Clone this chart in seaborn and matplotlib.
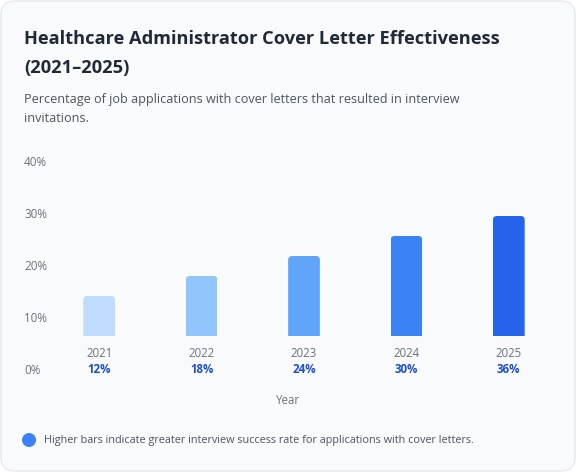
import matplotlib
matplotlib.use("Agg")
import matplotlib.pyplot as plt
from matplotlib.patches import FancyBboxPatch, Ellipse
import seaborn as sns
import pandas as pd

years = ["2021", "2022", "2023", "2024", "2025"]
rates = [12, 18, 24, 30, 36]
bar_colors = ["#bfdbfe", "#93c5fd", "#60a5fa", "#3b82f6", "#2563eb"]
axis_ticks = [0, 10, 20, 30, 40]
axis_labels = ["0%", "10%", "20%", "30%", "40%"]

title_lines = ["Healthcare Administrator Cover Letter Effectiveness", "(2021\u20132025)"]
subtitle_lines = ["Percentage of job applications with cover letters that resulted in interview",
                  "invitations."]
footer = "Higher bars indicate greater interview success rate for applications with cover letters."

sns.set_theme(style="white")
plt.rcParams["font.family"] = ["Open Sans", "DejaVu Sans"]

W, H = 576, 472
fig = plt.figure(figsize=(W / 100, H / 100), dpi=100)
fig.patch.set_facecolor("white")

card = FancyBboxPatch((1 / W, 1 / H), 1 - 2 / W, 1 - 2 / H,
                      boxstyle="round,pad=0,rounding_size=0.025",
                      transform=fig.transFigure, facecolor="#f8fafc",
                      edgecolor="#e5e7eb", linewidth=1, mutation_aspect=W / H,
                      zorder=-10)
fig.patches.append(card)

def fy(px):
    return 1 - px / H

def fx(px):
    return px / W

# bar axes: baseline at y=336px, 40px per 12%
px_per_unit = 40 / 12
bar_top_px = 160
ax = fig.add_axes([fx(48), fy(336), fx(560) - fx(48), (336 - bar_top_px) / H])
ax.patch.set_alpha(0)
df = pd.DataFrame({"year": years, "rate": rates})
sns.barplot(data=df, x="year", y="rate", hue="year", palette=bar_colors,
            width=0.31, legend=False, ax=ax, saturation=1, linewidth=0)
ax.set_ylim(0, (336 - bar_top_px) / px_per_unit)
ax.set_xlim(-0.5, len(years) - 0.5)
for s in ax.spines.values():
    s.set_visible(False)
ax.set_xticks([])
ax.set_yticks([])
ax.set_xlabel("")
ax.set_ylabel("")

# rounded top corners via clip path
xunit_px = (560 - 48) / len(years)
r_px = 4
for p in ax.patches:
    x, w, h = p.get_x(), p.get_width(), p.get_height()
    clip = FancyBboxPatch((x, -5), w, h + 5,
                          boxstyle=f"round,pad=0,rounding_size={r_px / xunit_px}",
                          mutation_aspect=xunit_px / px_per_unit,
                          transform=ax.transData)
    p.set_clip_path(clip)

for i, (yr, v) in enumerate(zip(years, rates)):
    ax.annotate(yr, xy=(i, 0), xytext=(0, -17.5), textcoords="offset pixels",
                ha="center", va="center", fontsize=8.3, color="#6b7280",
                annotation_clip=False)
    ax.annotate(f"{v}%", xy=(i, 0), xytext=(0, -33.5), textcoords="offset pixels",
                ha="center", va="center", fontsize=8.3, color="#1d4ed8",
                fontweight="bold", annotation_clip=False)

# scale axes for tick labels: 0% at y=368px, 40% at 160px
ax2 = fig.add_axes([0, fy(369.5), fx(24), (368 - 160) / H])
ax2.patch.set_alpha(0)
ax2.set_ylim(0, 40)
ax2.set_xticks([])
ax2.yaxis.tick_right()
ax2.set_yticks(axis_ticks)
ax2.set_yticklabels(axis_labels)
ax2.tick_params(axis="y", length=0, pad=0, labelsize=8.4, labelcolor="#6b7280")
for s in ax2.spines.values():
    s.set_visible(False)

fig.text(fx(288), fy(401), "Year", ha="center", va="center", fontsize=8.3, color="#6b7280")

fig.text(fx(24), fy(39), title_lines[0], ha="left", va="center", fontsize=13.15,
         fontweight="bold", color="#1f2937")
fig.text(fx(24), fy(68), title_lines[1], ha="left", va="center", fontsize=13.15,
         fontweight="bold", color="#1f2937")
fig.text(fx(24), fy(100), subtitle_lines[0], ha="left", va="center", fontsize=9.1,
         color="#4b5563")
fig.text(fx(24), fy(119), subtitle_lines[1], ha="left", va="center", fontsize=9.1,
         color="#4b5563")

fig.patches.append(Ellipse((fx(29), fy(440)), 14 / W, 14 / H, transform=fig.transFigure,
                           facecolor="#3b82f6", edgecolor="none"))
fig.text(fx(44), fy(440), footer, ha="left", va="center", fontsize=7.85, color="#4b5563")

fig.savefig("out.png", dpi=100, facecolor=fig.get_facecolor())
